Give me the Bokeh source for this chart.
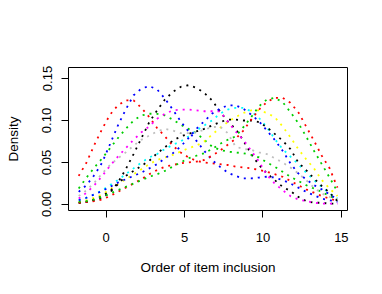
from bokeh.plotting import figure
from bokeh.models import FixedTicker, Range1d
from bokeh.embed import file_html
from bokeh.resources import INLINE

# Shared x grid (order of item inclusion)
x_grid = [-1.75, -1.25, -0.75, -0.25, 0.25, 0.75, 1.25, 1.75, 2.25, 2.75, 3.25, 3.75,
          4.25, 4.75, 5.25, 5.75, 6.25, 6.75, 7.25, 7.75, 8.25, 8.75, 9.25, 9.75,
          10.25, 10.75, 11.25, 11.75, 12.25, 12.75, 13.25, 13.75, 14.25, 14.75]

black_a = [0.002, 0.003, 0.005, 0.008, 0.014, 0.026, 0.042, 0.060, 0.079, 0.098, 0.112, 0.125,
           0.134, 0.140, 0.142, 0.139, 0.133, 0.124, 0.111, 0.099, 0.090, 0.076, 0.060, 0.047,
           0.037, 0.029, 0.021, 0.016, 0.009, 0.004, 0.002, 0.002, 0.001, 0.001]
red_a = [0.034, 0.050, 0.071, 0.090, 0.107, 0.118, 0.124, 0.124, 0.115, 0.104, 0.091, 0.081,
         0.070, 0.062, 0.056, 0.052, 0.050, 0.049, 0.048, 0.047, 0.045, 0.044, 0.043, 0.041,
         0.039, 0.036, 0.033, 0.028, 0.023, 0.018, 0.014, 0.010, 0.007, 0.004]
green_a = [0.019, 0.032, 0.044, 0.055, 0.067, 0.079, 0.090, 0.100, 0.106, 0.108, 0.108, 0.106,
           0.101, 0.095, 0.090, 0.085, 0.077, 0.069, 0.065, 0.063, 0.062, 0.061, 0.059, 0.056,
           0.050, 0.045, 0.039, 0.033, 0.028, 0.023, 0.019, 0.015, 0.010, 0.006]
blue_a = [0.015, 0.023, 0.035, 0.050, 0.072, 0.094, 0.113, 0.130, 0.138, 0.141, 0.137, 0.126,
          0.113, 0.099, 0.087, 0.076, 0.064, 0.053, 0.045, 0.038, 0.034, 0.031, 0.031, 0.032,
          0.033, 0.032, 0.029, 0.025, 0.020, 0.015, 0.011, 0.007, 0.005, 0.003]
cyan_s = [0.005, 0.008, 0.012, 0.017, 0.023, 0.029, 0.036, 0.043, 0.050, 0.056, 0.060, 0.066,
          0.071, 0.075, 0.081, 0.088, 0.094, 0.100, 0.108, 0.113, 0.115, 0.115, 0.111, 0.103,
          0.092, 0.078, 0.066, 0.057, 0.048, 0.038, 0.029, 0.021, 0.013, 0.007]
magenta_s = [0.007, 0.014, 0.023, 0.034, 0.046, 0.057, 0.067, 0.077, 0.086, 0.093, 0.102, 0.108,
             0.112, 0.113, 0.113, 0.112, 0.111, 0.111, 0.111, 0.099, 0.087, 0.077, 0.064, 0.051,
             0.035, 0.025, 0.017, 0.010, 0.006, 0.004, 0.002, 0.001, 0.001, 0.001]
yellow_s = [0.003, 0.005, 0.008, 0.012, 0.018, 0.024, 0.030, 0.036, 0.042, 0.048, 0.053, 0.056,
            0.059, 0.063, 0.067, 0.070, 0.075, 0.083, 0.091, 0.098, 0.104, 0.109, 0.112, 0.112,
            0.109, 0.104, 0.093, 0.080, 0.066, 0.054, 0.043, 0.029, 0.019, 0.010]
gray_s = [0.010, 0.017, 0.026, 0.037, 0.047, 0.055, 0.062, 0.070, 0.077, 0.082, 0.087, 0.090,
          0.088, 0.085, 0.085, 0.086, 0.089, 0.092, 0.093, 0.085, 0.069, 0.066, 0.065, 0.062,
          0.060, 0.055, 0.050, 0.044, 0.037, 0.029, 0.020, 0.013, 0.009, 0.006]
black_b = [0.002, 0.003, 0.006, 0.010, 0.016, 0.024, 0.034, 0.040, 0.046, 0.052, 0.061, 0.068,
           0.076, 0.081, 0.084, 0.087, 0.090, 0.094, 0.098, 0.101, 0.101, 0.100, 0.100, 0.098,
           0.092, 0.084, 0.076, 0.066, 0.050, 0.041, 0.031, 0.022, 0.014, 0.004]
red_b = [0.002, 0.003, 0.004, 0.006, 0.010, 0.015, 0.020, 0.025, 0.030, 0.036, 0.041, 0.045,
         0.047, 0.049, 0.050, 0.051, 0.053, 0.058, 0.064, 0.071, 0.078, 0.088, 0.101, 0.113,
         0.122, 0.127, 0.127, 0.121, 0.110, 0.093, 0.076, 0.058, 0.043, 0.020]
green_b = [0.003, 0.004, 0.006, 0.009, 0.013, 0.017, 0.021, 0.025, 0.029, 0.033, 0.036, 0.040,
           0.045, 0.050, 0.055, 0.058, 0.061, 0.066, 0.072, 0.077, 0.081, 0.092, 0.104, 0.117,
           0.125, 0.127, 0.122, 0.110, 0.097, 0.081, 0.064, 0.048, 0.032, 0.015]
blue_b = [0.005, 0.008, 0.012, 0.016, 0.021, 0.026, 0.030, 0.034, 0.038, 0.043, 0.048, 0.055,
          0.061, 0.069, 0.079, 0.090, 0.099, 0.108, 0.114, 0.118, 0.118, 0.114, 0.107, 0.099,
          0.088, 0.077, 0.064, 0.049, 0.037, 0.030, 0.023, 0.018, 0.012, 0.006]

series = [black_a, red_a, green_a, blue_a, cyan_s, magenta_s, yellow_s, gray_s,
          black_b, red_b, green_b, blue_b]
colors = ["#000000", "#FF0000", "#00CD00", "#0000FF", "#00FFFF", "#FF00FF",
          "#FFFF00", "#BEBEBE", "#000000", "#FF0000", "#00CD00", "#0000FF"]

x_ticks = [0, 5, 10, 15]
y_ticks = [0.0, 0.05, 0.10, 0.15]
y_tick_labels = ["0.00", "0.05", "0.10", "0.15"]

FONT = "Liberation Sans"

p = figure(width=378, height=290, output_backend="svg", toolbar_location=None,
           x_range=Range1d(-2.40, 15.39), y_range=Range1d(-0.0072, 0.1631),
           min_border_left=68, min_border_right=31, min_border_top=67, min_border_bottom=80)
p.background_fill_color = "white"
p.border_fill_color = "white"
p.outline_line_color = "black"
p.outline_line_width = 1
p.grid.visible = False

for ys, c in zip(series, colors):
    p.line(x_grid, ys, line_color=c, line_width=1.8, line_dash="2 5")

p.xaxis.ticker = FixedTicker(ticks=x_ticks)
p.yaxis.ticker = FixedTicker(ticks=y_ticks)
p.yaxis.major_label_overrides = {t: l for t, l in zip(y_ticks, y_tick_labels)}
for ax in (p.xaxis, p.yaxis):
    ax.axis_line_color = None
    ax.major_tick_out = 7
    ax.major_tick_in = 0
    ax.major_tick_line_color = "black"
    ax.minor_tick_line_color = None
    ax.major_label_text_font = FONT
    ax.major_label_text_font_size = "13px"
    ax.major_label_text_color = "black"
    ax.axis_label_text_font = FONT
    ax.axis_label_text_font_size = "13.5px"
    ax.axis_label_text_font_style = "normal"
    ax.axis_label_text_color = "black"
p.xaxis.axis_label = "Order of item inclusion"
p.yaxis.axis_label = "Density"
p.yaxis.major_label_orientation = "vertical"
p.xaxis.major_label_standoff = 15
p.xaxis.axis_label_standoff = 15
p.yaxis.major_label_standoff = 10
p.yaxis.axis_label_standoff = 19

open("out.html", "w").write(file_html(p, INLINE))
